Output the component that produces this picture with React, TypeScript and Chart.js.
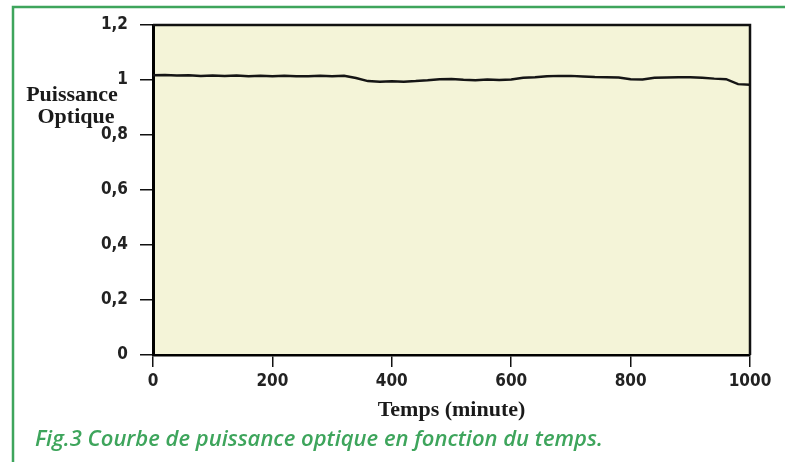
import React, { useEffect, useRef } from "react";
import { Chart, registerables } from "chart.js";

Chart.register(...registerables);

const TIME_MIN = [
  0, 20, 40, 60, 80, 100, 120, 140, 160, 180, 200, 220, 240, 260, 280, 300, 320, 340, 360, 380,
  400, 420, 440, 460, 480, 500, 520, 540, 560, 580, 600, 620, 640, 660, 680, 700, 720, 740, 760,
  780, 800, 820, 840, 860, 880, 900, 920, 940, 960, 980, 1000,
];
const POWER = [
  1.017, 1.018, 1.016, 1.017, 1.015, 1.016, 1.015, 1.016, 1.014, 1.015, 1.014, 1.015, 1.014, 1.014,
  1.015, 1.014, 1.015, 1.007, 0.996, 0.994, 0.995, 0.994, 0.996, 0.999, 1.003, 1.004, 1.001, 0.999,
  1.002, 1.0, 1.002, 1.008, 1.01, 1.014, 1.015, 1.015, 1.013, 1.011, 1.01, 1.009, 1.003, 1.002,
  1.008, 1.009, 1.01, 1.01, 1.008, 1.005, 1.003, 0.985, 0.983,
];
const X_MIN = 0;
const X_MAX = 1000;
const X_STEP = 200;
const Y_MIN = 0;
const Y_MAX = 1.2;
const Y_STEP = 0.2;
const Y_TITLE = ["Puissance", "Optique"];
const X_TITLE = "Temps (minute)";
const CAPTION = "Fig.3 Courbe de puissance optique en fonction du temps.";

const W = 785;
const H = 462;
const GREEN = "#3ea55c";
const TICK_FONT = {
  family: '"DejaVu Sans Condensed", "Liberation Sans Narrow", "Liberation Sans", sans-serif',
  size: 17,
  weight: "bold" as const,
};

const decorPlugin = {
  id: "decor",
  beforeDraw(chart: any) {
    const { ctx, chartArea } = chart;
    ctx.save();
    ctx.fillStyle = "#ffffff";
    ctx.fillRect(0, 0, W, H);
    ctx.strokeStyle = GREEN;
    ctx.lineWidth = 2.5;
    ctx.beginPath();
    ctx.moveTo(785, 7);
    ctx.lineTo(13, 7);
    ctx.lineTo(13, H);
    ctx.stroke();
    ctx.fillStyle = "#f4f4d8";
    ctx.fillRect(chartArea.left, chartArea.top, chartArea.right - chartArea.left, chartArea.bottom - chartArea.top);
    ctx.restore();
  },
  afterDraw(chart: any) {
    const { ctx, chartArea } = chart;
    ctx.save();
    ctx.strokeStyle = "#111";
    ctx.lineWidth = 2.5;
    ctx.beginPath();
    ctx.moveTo(chartArea.left, chartArea.top);
    ctx.lineTo(chartArea.right, chartArea.top);
    ctx.lineTo(chartArea.right, chartArea.bottom);
    ctx.stroke();
    ctx.fillStyle = "#1a1a1a";
    ctx.font = 'bold 22px "Liberation Serif", "Times New Roman", serif';
    ctx.textAlign = "center";
    ctx.textBaseline = "middle";
    ctx.fillText(Y_TITLE[0], 72, 95);
    ctx.fillText(Y_TITLE[1], 76, 117);
    ctx.fillText(X_TITLE, (chartArea.left + chartArea.right) / 2, 410);
    ctx.fillStyle = GREEN;
    ctx.font = 'italic 600 22px "Open Sans", sans-serif';
    ctx.textAlign = "left";
    ctx.fillText(CAPTION, 35, 440);
    ctx.restore();
  },
};

export default function App() {
  const ref = useRef<HTMLCanvasElement>(null);
  useEffect(() => {
    const chart = new Chart(ref.current as HTMLCanvasElement, {
      type: "line",
      data: {
        datasets: [
          {
            data: TIME_MIN.map((t, i) => ({ x: t, y: POWER[i] })),
            borderColor: "#151515",
            borderWidth: 2.5,
            pointRadius: 0,
            tension: 0,
          },
        ],
      },
      options: {
        responsive: false,
        animation: false,
        devicePixelRatio: 1,
        layout: { padding: { left: 0, top: 25, right: 35, bottom: 0 } },
        plugins: { legend: { display: false }, tooltip: { enabled: false } },
        scales: {
          x: {
            type: "linear",
            min: X_MIN,
            max: X_MAX,
            ticks: {
              stepSize: X_STEP,
              color: "#222",
              font: TICK_FONT,
              padding: 4,
              maxRotation: 0,
              callback: (v: any) => String(v),
            },
            grid: { drawOnChartArea: false, drawTicks: true, tickLength: 12, color: "#111", lineWidth: 1.5 },
            border: { display: true, color: "#000", width: 2.5 },
            afterFit: (s: any) => {
              s.height = H - 355;
            },
          },
          y: {
            type: "linear",
            min: Y_MIN,
            max: Y_MAX,
            ticks: {
              stepSize: Y_STEP,
              color: "#222",
              font: TICK_FONT,
              padding: 12,
              callback: (v: any) => String(Math.round(Number(v) * 10) / 10).replace(".", ","),
            },
            grid: { drawOnChartArea: false, drawTicks: true, tickLength: 13, color: "#111", lineWidth: 1.5 },
            border: { display: true, color: "#000", width: 3 },
            afterFit: (s: any) => {
              s.width = 153;
            },
          },
        },
      },
      plugins: [decorPlugin],
    });
    return () => chart.destroy();
  }, []);
  return (
    <div style={{ position: "absolute", left: 0, top: 0, width: W, height: H }}>
      <canvas ref={ref} width={W} height={H} style={{ width: W, height: H, display: "block" }} />
    </div>
  );
}
